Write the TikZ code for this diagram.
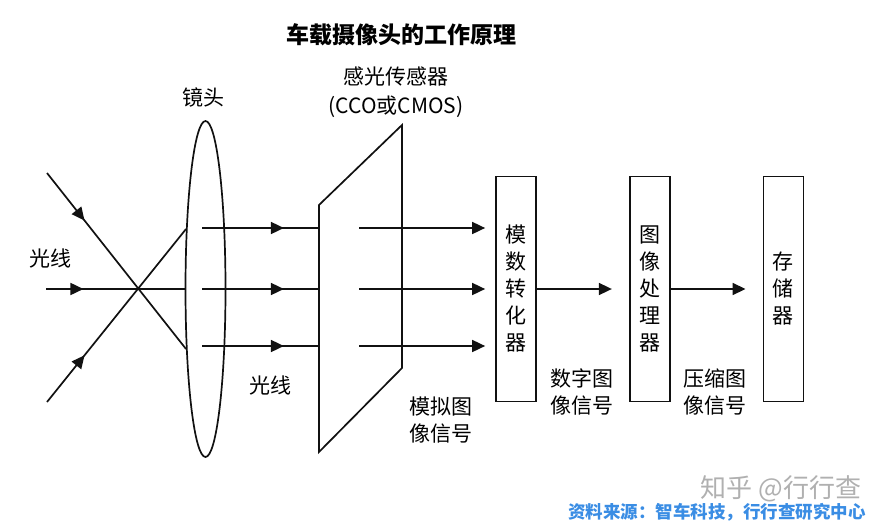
\documentclass[tikz,border=0pt]{standalone}
\usepackage{fontspec}
\setmainfont{Noto Sans CJK SC}
\usepackage{xcolor}
\usetikzlibrary{
  arrows.meta,
  shapes.geometric,
  positioning,
  calc,
  decorations.markings
}
\definecolor{camInk}{HTML}{111111}
\definecolor{camSource}{HTML}{3A8DE4}
\definecolor{camMark}{HTML}{B0B0B0}
\tikzset{
  camlabel/.style={font=\fontsize{21}{27}\selectfont, align=center, inner sep=0pt},
  stagebox/.style={
    draw=camInk, line width=1.7pt, minimum width=40pt, minimum height=225pt,
    inner sep=0pt, font=\fontsize{21}{27}\selectfont, align=center
  },
  lensnode/.style={draw=camInk, ellipse, line width=1.7pt, minimum width=40pt, minimum height=336pt, inner sep=0pt},
  ray/.style={draw=camInk, line width=1.7pt},
  midarrow/.style={
    ray, postaction={decorate},
    decoration={markings, mark=at position #1 with {\arrow{Triangle[length=13pt,width=12pt]}}}
  },
  signal/.style={ray, -{Triangle[length=13pt,width=12pt]}},
  titletext/.style={font=\fontsize{23}{28}\selectfont\bfseries},
  sourcetext/.style={font=\fontsize{17.5}{20}\selectfont\bfseries, text=camSource},
  marktext/.style={font=\fontsize{26}{30}\selectfont, text=camMark}
}
\begin{document}
\begin{tikzpicture}[x=1pt, y=-1pt, node distance=92pt]
  \useasboundingbox (0,0) rectangle (888,527);
  \node[titletext] (title) at (401,35) {车载摄像头的工作原理};

  \node[lensnode] (lens) at (205.5,289) {};
  \node[camlabel] (lenslabel) at (203,97) {镜头};

  \coordinate (s1) at (319,205);
  \coordinate (s2) at (402,125);
  \coordinate (s3) at (402,368);
  \coordinate (s4) at (319,452);
  \draw[ray, line join=miter] (s1) -- (s2) -- (s3) -- (s4) -- cycle;
  \node[camlabel, font=\fontsize{21}{29}\selectfont] (sensorlabel) at (396,92) {感光传感器\\(CCO或CMOS)};

  \node[stagebox] (adc) at (516,289) {模\\数\\转\\化\\器};
  \node[stagebox, right=of adc] (isp) {图\\像\\处\\理\\器};
  \node[stagebox, right=of isp] (mem) {存\\储\\器};

  \coordinate (in1) at (47,173);
  \coordinate (in2) at (46,289);
  \coordinate (in3) at (47,402);
  \draw[midarrow=0.27] (in1) -- (lens.252);
  \draw[midarrow=0.27] (in2) -- (lens.west);
  \draw[midarrow=0.27] (in3) -- (lens.108);

  \foreach \y [count=\i] in {228,289,346} {
    \coordinate (out\i) at (202,\y);
    \coordinate (sig\i) at (359,\y);
    \draw[midarrow=0.7] (out\i) -- (s1 |- out\i);
    \draw[signal, shorten >=10pt] (sig\i) -- (adc.west |- sig\i);
  }
  \draw[signal, shorten >=17pt] (adc.east) -- (isp.west);
  \draw[signal, shorten >=17pt] (isp.east) -- (mem.west);

  \node[camlabel] (raylabelin) at (50,258) {光线};
  \node[camlabel] (raylabelout) at (270,385) {光线};
  \node[camlabel] (analoglabel) at (441,420) {模拟图\\像信号};
  \node[camlabel] (digitallabel) at (582,392) {数字图\\像信号};
  \node[camlabel] (compresslabel) at (715,392) {压缩图\\像信号};

  \node[marktext] (mark) at (781,489) {知乎 @行行查};
  \node[sourcetext] (source) at (717,512) {资料来源：智车科技，行行查研究中心};
\end{tikzpicture}
\end{document}
